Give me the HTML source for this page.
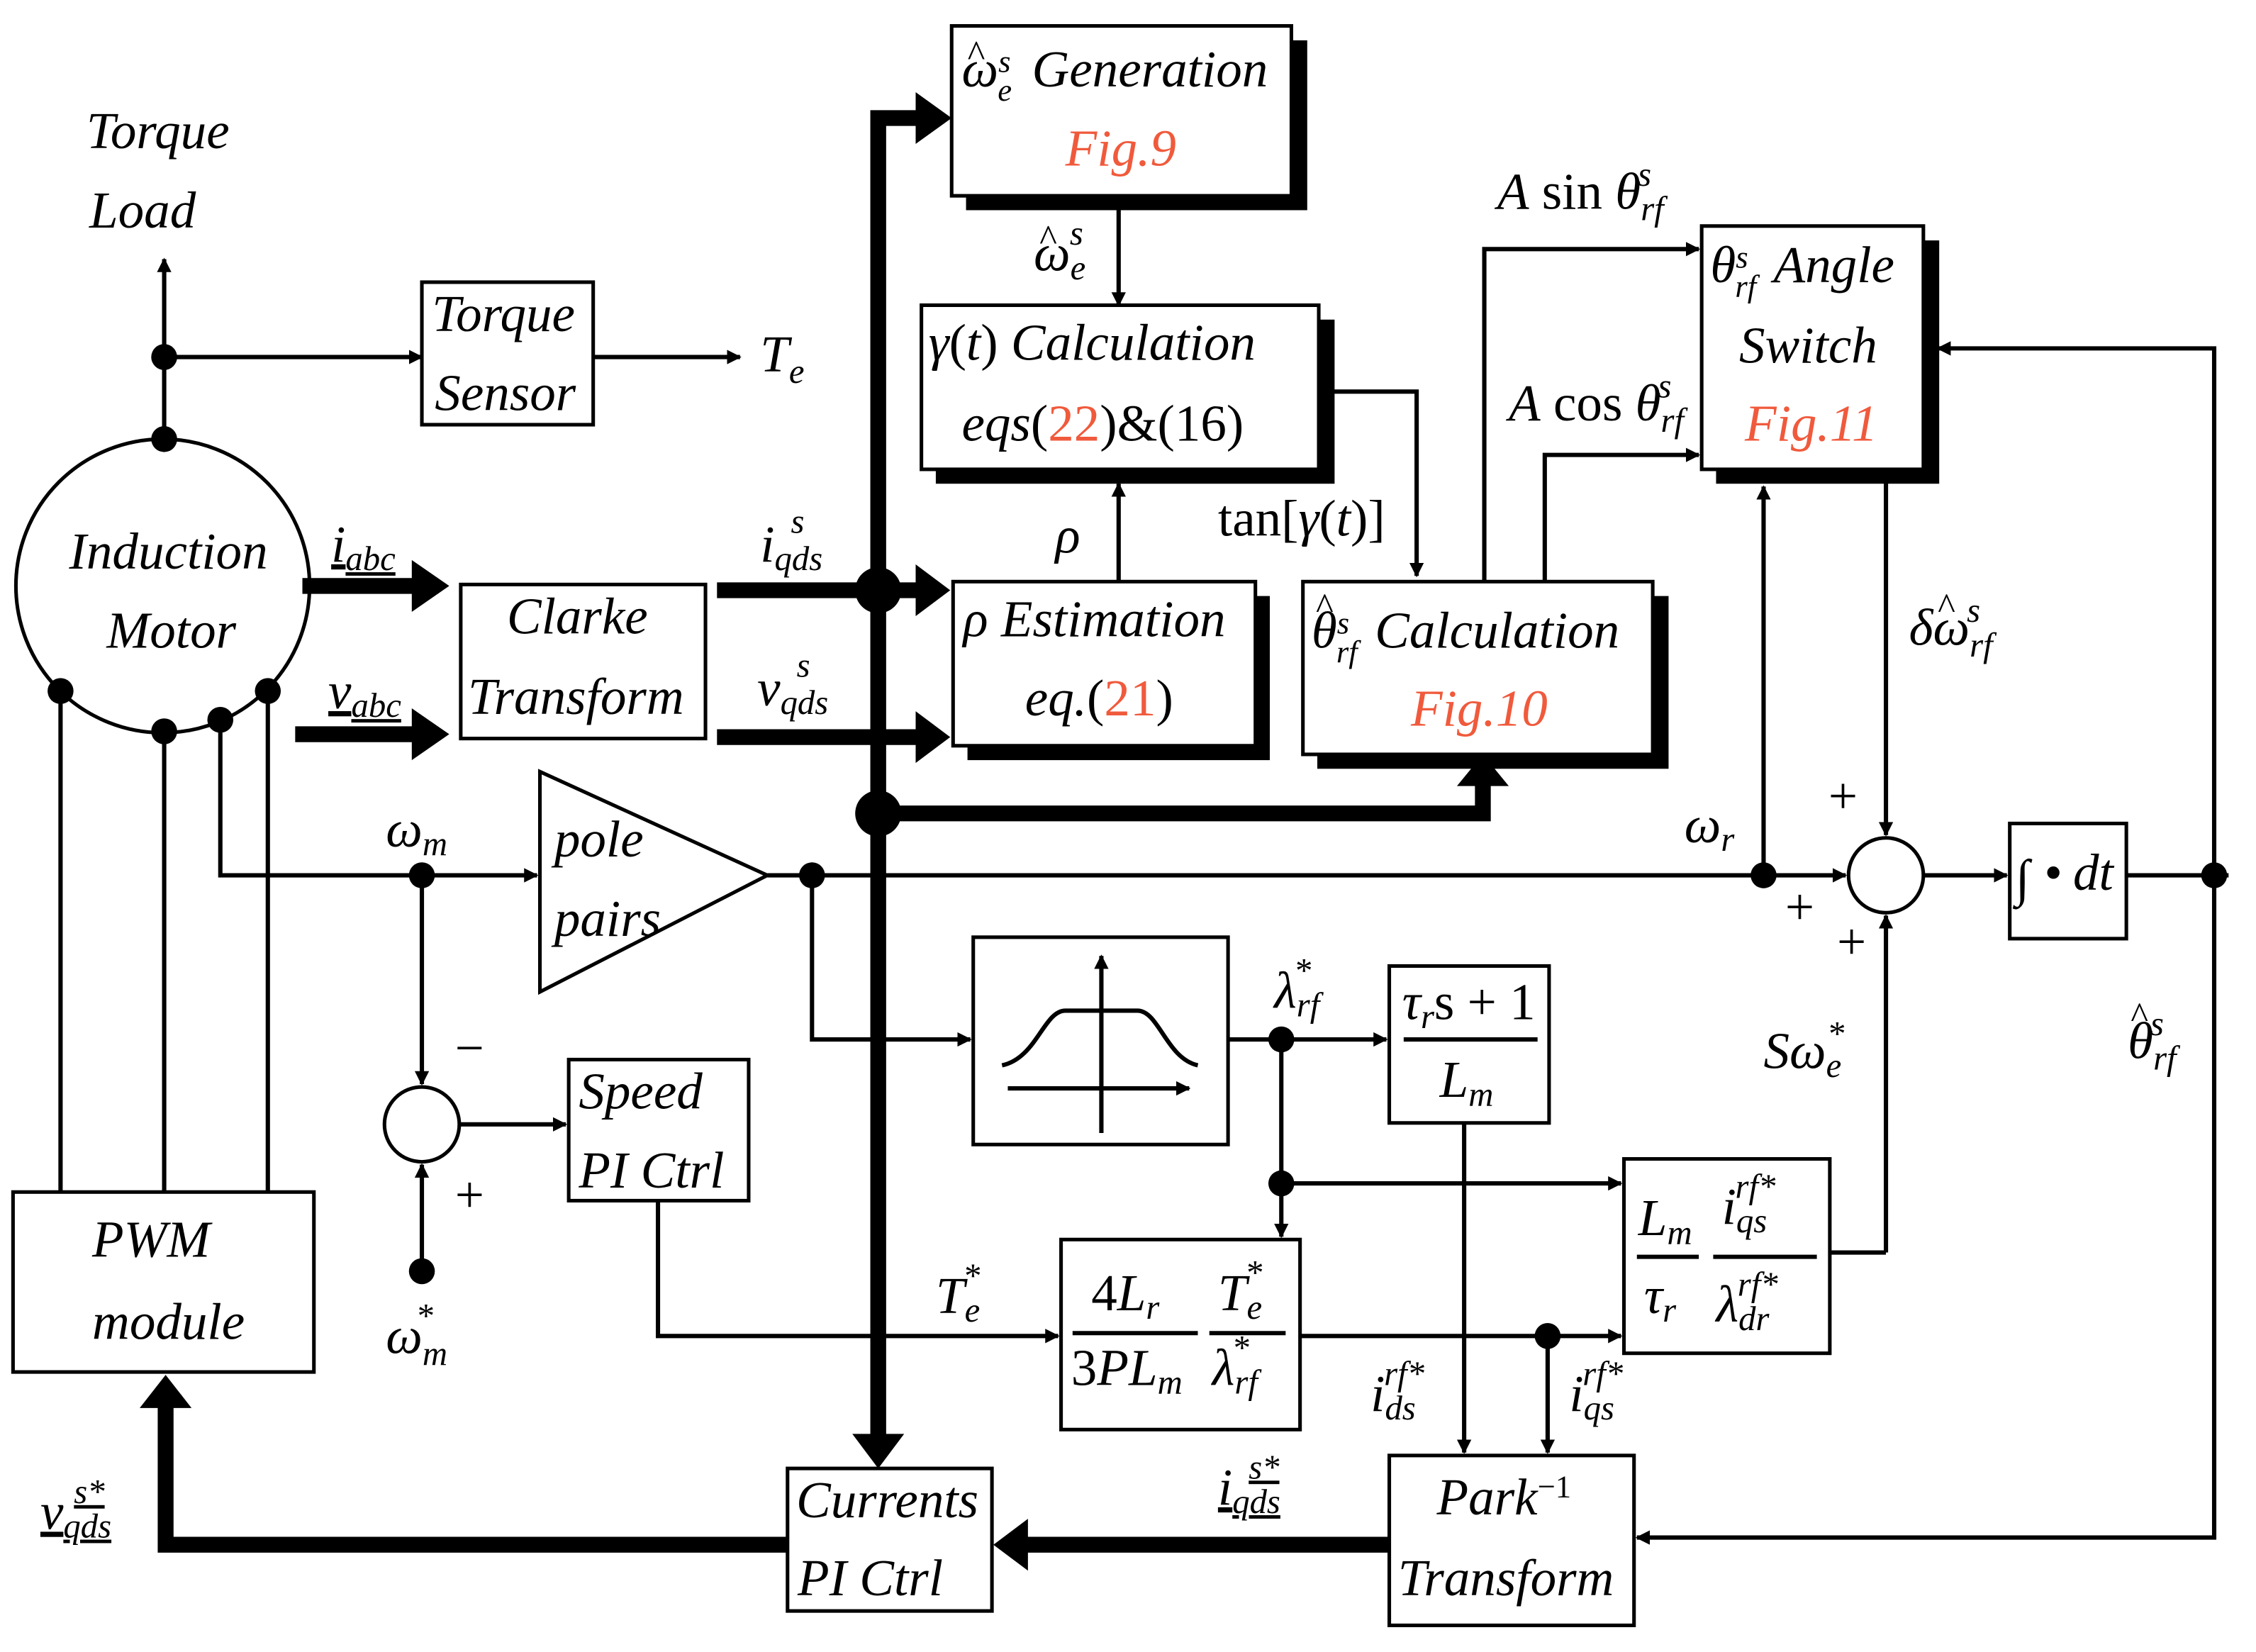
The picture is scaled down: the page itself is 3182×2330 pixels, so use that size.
<!DOCTYPE html>
<html><head><meta charset="utf-8"><style>
html,body{margin:0;padding:0;background:#fff}
svg{display:block}
text{font-family:"Liberation Serif",serif;font-style:italic;font-size:36px;fill:#000}
.r{fill:#f05a3c}
.n{font-style:normal}
.h{font-style:normal;font-size:26px}
</style></head><body>
<svg width="3182" height="2330" viewBox="0 0 1567 1147.5" xmlns="http://www.w3.org/2000/svg">
<defs>
<marker id="a" markerWidth="10" markerHeight="10" refX="9" refY="5" orient="auto" markerUnits="userSpaceOnUse" viewBox="0 0 10 10"><path d="M0,0 L10,5 L0,10 z" fill="#000"/></marker>
</defs>
<g fill="#fff" stroke="#000" stroke-width="2.5">
<g fill="#000" stroke="none">
<rect x="671" y="28" width="237" height="118"/>
<rect x="650" y="222" width="277" height="114"/>
<rect x="672" y="414" width="210" height="114"/>
<rect x="915" y="414" width="244" height="120"/>
<rect x="1192" y="167" width="155" height="169"/>
</g>
<rect x="661" y="18" width="236" height="118"/>
<rect x="640" y="212" width="276" height="114"/>
<rect x="662" y="404" width="210" height="114"/>
<rect x="905" y="404" width="243" height="120"/>
<rect x="1182" y="157" width="154" height="169"/>
<rect x="293" y="196" width="119" height="99"/>
<rect x="320" y="406" width="170" height="107"/>
<rect x="395" y="736" width="125" height="98"/>
<rect x="9" y="828" width="209" height="125"/>
<rect x="547" y="1020" width="142" height="99"/>
<rect x="965" y="1011" width="170" height="118"/>
<rect x="737" y="861" width="166" height="132"/>
<rect x="965" y="671" width="111" height="109"/>
<rect x="1128" y="805" width="143" height="135"/>
<rect x="676" y="651" width="177" height="144"/>
<rect x="1396" y="572" width="81" height="80"/>
<circle cx="113" cy="407" r="102"/>
<circle cx="1310" cy="608" r="26"/>
<circle cx="293" cy="781" r="26"/>
<path d="M375,536 L533,608 L375,689 Z"/>
</g>
<g fill="none" stroke="#000" stroke-width="3">
<path d="M114,305 V180" marker-end="url(#a)"/>
<path d="M114,248 H293" marker-end="url(#a)"/>
<path d="M412,248 H514" marker-end="url(#a)"/>
<path d="M777,136 V212" marker-end="url(#a)"/>
<path d="M777,404 V336" marker-end="url(#a)"/>
<path d="M916,272 H984 V400" marker-end="url(#a)"/>
<path d="M1031,404 V173 H1180" marker-end="url(#a)"/>
<path d="M1073,404 V316 H1180" marker-end="url(#a)"/>
<path d="M1225,608 V338" marker-end="url(#a)"/>
<path d="M1538,608 V242 H1346" marker-end="url(#a)"/>
<path d="M1310,326 V580" marker-end="url(#a)"/>
<path d="M533,608 H1282" marker-end="url(#a)"/>
<path d="M1336,608 H1394" marker-end="url(#a)"/>
<path d="M1477,608 H1548"/>
<path d="M1538,608 V1068 H1137" marker-end="url(#a)"/>
<path d="M1310,870 V636" marker-end="url(#a)"/>
<path d="M1271,870 H1310"/>
<path d="M153,500 V608 H373" marker-end="url(#a)"/>
<path d="M293,608 V753" marker-end="url(#a)"/>
<path d="M293,883 V809" marker-end="url(#a)"/>
<path d="M319,781 H393" marker-end="url(#a)"/>
<path d="M564,608 V722 H674" marker-end="url(#a)"/>
<path d="M853,722 H963" marker-end="url(#a)"/>
<path d="M890,722 V859" marker-end="url(#a)"/>
<path d="M890,822 H1126" marker-end="url(#a)"/>
<path d="M457,834 V928 H735" marker-end="url(#a)"/>
<path d="M903,928 H1126" marker-end="url(#a)"/>
<path d="M1075,928 V1009" marker-end="url(#a)"/>
<path d="M1017,780 V1009" marker-end="url(#a)"/>
<path d="M42,480 V828 M114,508 V828 M186,480 V828"/>
<path d="M765,787 V664" marker-end="url(#a)"/>
<path d="M700,756 H826" marker-end="url(#a)"/>
<path d="M696,740 C720,735 725,702 740,702 H790 C805,702 810,735 832,740"/>
<path d="M975,722 H1068 M745,926 H832 M840,926 H893 M1137,873 H1180 M1190,873 H1262"/>
</g>
<g fill="none" stroke="#000" stroke-width="11">
<path d="M610,1000 V82 H640"/>
<path d="M498,410 H640 M498,512 H640"/>
<path d="M610,565 H1030 V540"/>
<path d="M210,407 H290 M205,510 H290"/>
<path d="M965,1073 H712"/>
<path d="M547,1073 H115 V975"/>
</g>
<g fill="#000">
<path d="M636,64 L661,82 L636,100 Z"/>
<path d="M636,392 L660,410 L636,428 Z"/>
<path d="M636,494 L660,512 L636,530 Z"/>
<path d="M286,389 L312,407 L286,425 Z"/>
<path d="M286,492 L312,510 L286,528 Z"/>
<path d="M592,996 L610,1020 L628,996 Z"/>
<path d="M1012,546 L1030,524 L1048,546 Z"/>
<path d="M714,1055 L690,1073 L714,1091 Z"/>
<path d="M97,978 L115,955 L133,978 Z"/>
<circle cx="610" cy="410" r="16"/>
<circle cx="610" cy="565" r="16"/>
<circle cx="114" cy="248" r="9"/><circle cx="114" cy="305" r="9"/>
<circle cx="42" cy="480" r="9"/><circle cx="114" cy="508" r="9"/><circle cx="153" cy="500" r="9"/><circle cx="186" cy="480" r="9"/>
<circle cx="293" cy="608" r="9"/><circle cx="564" cy="608" r="9"/><circle cx="1225" cy="608" r="9"/><circle cx="1538" cy="608" r="9"/>
<circle cx="890" cy="722" r="9"/><circle cx="890" cy="822" r="9"/><circle cx="1075" cy="928" r="9"/><circle cx="293" cy="883" r="9"/>
</g>
<text x="60" y="103">Torque</text>
<text x="62" y="158">Load</text>
<text x="300" y="230">Torque</text>
<text x="302" y="285">Sensor</text>
<text x="528" y="258">T<tspan font-size="24" dy="8">e</tspan></text>
<text x="48" y="395">Induction</text>
<text x="74" y="450">Motor</text>
<text x="230" y="390" text-decoration="underline">i<tspan font-size="24" dy="6">abc</tspan></text>
<text x="228" y="492" text-decoration="underline">v<tspan font-size="24" dy="6">abc</tspan></text>
<text x="352" y="440">Clarke</text>
<text x="325" y="496">Transform</text>
<text x="528" y="390">i<tspan font-size="24" dy="6">qds</tspan><tspan font-size="24" dx="-22" dy="-26">s</tspan></text>
<text x="526" y="490">v<tspan font-size="24" dy="6">qds</tspan><tspan font-size="24" dx="-22" dy="-26">s</tspan></text>
<text x="668" y="60">ω<tspan font-size="22" dy="-10">s</tspan><tspan font-size="22" dx="-9" dy="20">e</tspan><tspan dx="14" dy="-10">Generation</tspan></text>
<text x="672" y="46" class="h">^</text>
<text x="740" y="115" class="r">Fig.9</text>
<text x="718" y="188">ω<tspan font-size="24" dy="6">e</tspan><tspan font-size="24" dx="-11" dy="-24">s</tspan></text>
<text x="722" y="174" class="h">^</text>
<text x="645" y="250">γ<tspan class="n">(</tspan>t<tspan class="n">)</tspan> Calculation</text>
<text x="668" y="306">eqs<tspan class="n">(</tspan><tspan class="r n">22</tspan><tspan class="n">)&amp;(16)</tspan></text>
<text x="733" y="384">ρ</text>
<text x="846" y="372" class="n">tan[<tspan font-style="italic">γ</tspan>(<tspan font-style="italic">t</tspan>)]</text>
<text x="669" y="442">ρ Estimation</text>
<text x="712" y="497">eq.<tspan class="n">(</tspan><tspan class="r n">21</tspan><tspan class="n">)</tspan></text>
<text x="911" y="450">θ<tspan font-size="22" dy="-10">s</tspan><tspan font-size="22" dx="-9" dy="20">rf</tspan><tspan dx="12" dy="-10">Calculation</tspan></text>
<text x="914" y="430" class="h">^</text>
<text x="980" y="504" class="r">Fig.10</text>
<text x="1040" y="145">A<tspan class="n"> sin </tspan>θ<tspan font-size="24" dy="8">rf</tspan><tspan font-size="24" dx="-18" dy="-24">s</tspan></text>
<text x="1048" y="292">A<tspan class="n"> cos </tspan>θ<tspan font-size="24" dy="8">rf</tspan><tspan font-size="24" dx="-18" dy="-24">s</tspan></text>
<text x="1188" y="196">θ<tspan font-size="22" dy="-10">s</tspan><tspan font-size="22" dx="-9" dy="20">rf</tspan><tspan dx="12" dy="-10">Angle</tspan></text>
<text x="1208" y="252">Switch</text>
<text x="1212" y="306" class="r">Fig.11</text>
<text x="1326" y="448">δω<tspan font-size="24" dy="8">rf</tspan><tspan font-size="24" dx="-18" dy="-24">s</tspan></text>
<text x="1346" y="430" class="h">^</text>
<text x="1170" y="585">ω<tspan font-size="24" dy="6">r</tspan></text>
<text x="1270" y="565" class="n" font-size="26">+</text>
<text x="1240" y="642" class="n" font-size="26">+</text>
<text x="1276" y="666" class="n" font-size="26">+</text>
<text x="1400" y="622" class="n" font-size="42">∫</text>
<text x="1420" y="618" class="n">•</text><text x="1440" y="618" font-size="28">dt</text>
<text x="1478" y="735">θ<tspan font-size="24" dy="8">rf</tspan><tspan font-size="24" dx="-18" dy="-24">s</tspan></text>
<text x="1480" y="714" class="h">^</text>
<text x="1225" y="742">Sω<tspan font-size="24" dy="6">e</tspan><tspan font-size="24" dx="-10" dy="-22">*</tspan></text>
<text x="268" y="588">ω<tspan font-size="24" dy="6">m</tspan></text>
<text x="385" y="595">pole</text>
<text x="385" y="650">pairs</text>
<text x="316" y="740" class="n" font-size="26">−</text>
<text x="316" y="842" class="n" font-size="26">+</text>
<text x="268" y="940">ω<tspan font-size="24" dy="8">m</tspan><tspan font-size="24" dx="-22" dy="-26">*</tspan></text>
<text x="402" y="770">Speed</text>
<text x="402" y="825">PI  Ctrl</text>
<text x="885" y="700">λ<tspan font-size="24" dy="6">rf</tspan><tspan font-size="24" dx="-18" dy="-24">*</tspan></text>
<text x="974" y="708">τ<tspan font-size="24" dy="6">r</tspan><tspan dy="-6" class="n">s + 1</tspan></text>
<text x="1000" y="762">L<tspan font-size="24" dy="6">m</tspan></text>
<text x="650" y="912">T<tspan font-size="24" dy="6">e</tspan><tspan font-size="24" dx="-12" dy="-24">*</tspan></text>
<text x="64" y="873">PWM</text>
<text x="64" y="930">module</text>
<text x="758" y="910" class="n">4<tspan font-style="italic">L</tspan><tspan font-size="24" dy="6" font-style="italic">r</tspan></text>
<text x="846" y="910">T<tspan font-size="24" dy="6">e</tspan><tspan font-size="24" dx="-12" dy="-24">*</tspan></text>
<text x="744" y="962" class="n">3<tspan font-style="italic">PL</tspan><tspan font-size="24" dy="6" font-style="italic">m</tspan></text>
<text x="842" y="962">λ<tspan font-size="24" dy="6">rf</tspan><tspan font-size="24" dx="-18" dy="-24">*</tspan></text>
<text x="1138" y="858">L<tspan font-size="24" dy="6">m</tspan></text>
<text x="1196" y="850">i<tspan font-size="24" dy="6">qs</tspan><tspan font-size="24" dx="-22" dy="-24">rf*</tspan></text>
<text x="1142" y="912">τ<tspan font-size="24" dy="6">r</tspan></text>
<text x="1192" y="918">λ<tspan font-size="24" dy="6">dr</tspan><tspan font-size="24" dx="-22" dy="-24">rf*</tspan></text>
<text x="952" y="980">i<tspan font-size="24" dy="6">ds</tspan><tspan font-size="24" dx="-22" dy="-24">rf*</tspan></text>
<text x="1090" y="980">i<tspan font-size="24" dy="6">qs</tspan><tspan font-size="24" dx="-22" dy="-24">rf*</tspan></text>
<text x="846" y="1045" text-decoration="underline">i<tspan font-size="24" dy="6">qds</tspan><tspan font-size="24" dx="-22" dy="-24">s*</tspan></text>
<text x="28" y="1062" text-decoration="underline">v<tspan font-size="24" dy="6">qds</tspan><tspan font-size="24" dx="-26" dy="-24">s*</tspan></text>
<text x="553" y="1054">Currents</text>
<text x="554" y="1108">PI  Ctrl</text>
<text x="998" y="1052">Park<tspan font-size="22" dy="-12" class="n">−1</tspan></text>
<text x="971" y="1108">Transform</text>
</svg>
</body></html>
